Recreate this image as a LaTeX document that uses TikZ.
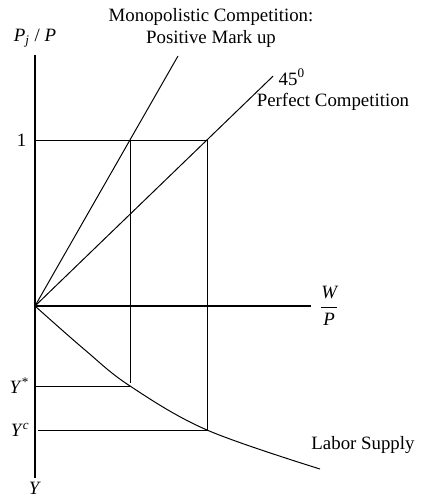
\documentclass[tikz,border=0pt]{standalone}
\usepackage{amsmath}
\usepackage{fontspec}
\setmainfont{Liberation Serif}
\usetikzlibrary{positioning}

\begin{document}
\begin{tikzpicture}[
  lbl/.style={font=\fontsize{13.4}{15.5}\selectfont, inner sep=1pt},
  axis/.style={line width=0.9pt},
  curve/.style={line width=0.7pt}]
  \useasboundingbox (-0.875,-4.875) rectangle (9.675,7.65);
  % axes
  \coordinate (O) at (0,0);
  \coordinate (ytop) at (0,6.275);
  \coordinate (ybot) at (0,-4.3);
  \coordinate (xend) at (6.9,0);
  \draw[axis] (ytop) -- (ybot);
  \draw[axis] (O) -- (xend);
  % price lines
  \coordinate (mono) at (3.575,6.25);
  \coordinate (perf) at (5.95,5.745);
  \draw[curve] (O) -- (mono);
  \draw[curve] (O) -- (perf);
  % equilibrium points
  \coordinate (one) at (0,4.15);
  \coordinate (A) at (2.375,4.15);
  \coordinate (B) at (4.3,4.15);
  \coordinate (As) at (2.375,-2.0);
  \coordinate (Bc) at (4.3,-3.1);
  \coordinate (ys) at (0,-2.0);
  \coordinate (yc) at (0.08,-3.1);
  \draw[curve] (one) -- (B);
  \draw[curve] (A) -- (2.375,-1.93);
  \draw[curve] (As) -- (ys);
  \draw[curve] (B) -- (Bc) -- (yc);
  % labor supply
  \coordinate (ls) at (7.125,-4.075);
  \draw[curve] plot[smooth, tension=0.6] coordinates {(O) (1.25,-1.1) (As) (Bc) (ls)};
  % labels
  \node[lbl, above=4pt of ytop] (lpj) {\textit{P}\textsubscript{\textit{j}} / \textit{P}};
  \node[lbl, left=5pt of one] (lone) {1};
  \node[lbl, right=5pt of xend] (lwp) {$\dfrac{\text{\itshape W}}{\text{\itshape P}}$};
  \node[lbl, left=3pt of ys] (lys) {\textit{Y}\textsuperscript{*}};
  \node[lbl, left=5pt of yc] (lyc) {\textit{Y}\textsuperscript{\textit{c}}};
  \node[lbl, below=2pt of ybot] (ly) {\textit{Y}};
  \node[lbl, align=center] (lmono) at (4.4,6.95) {Monopolistic Competition:\\Positive Mark up};
  \node[lbl, anchor=west] (l45) at (6.05,5.72) {45\textsuperscript{0}};
  \node[lbl] (lperf) at (7.45,5.1) {Perfect Competition};
  \node[lbl] (lls) at (8.2,-3.475) {Labor Supply};
\end{tikzpicture}
\end{document}
